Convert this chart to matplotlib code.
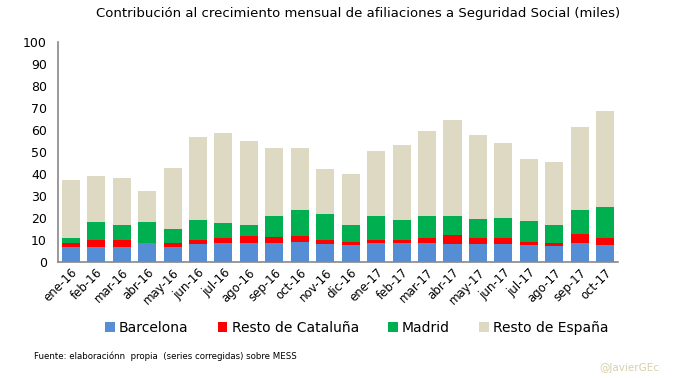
import matplotlib
matplotlib.use("Agg")
import matplotlib.pyplot as plt
import numpy as np

months = ["ene-16", "feb-16", "mar-16", "abr-16", "may-16", "jun-16", "jul-16",
          "ago-16", "sep-16", "oct-16", "nov-16", "dic-16", "ene-17", "feb-17",
          "mar-17", "abr-17", "may-17", "jun-17", "jul-17", "ago-17", "sep-17", "oct-17"]

barcelona = [6.6, 6.9, 6.9, 8.4, 6.9, 8.0, 8.4, 8.4, 8.4, 8.9, 8.0, 7.5,
             8.4, 8.4, 8.4, 8.0, 8.0, 8.0, 7.5, 7.1, 8.4, 7.5]
resto_cat = [1.8, 3.3, 3.3, 0.0, 1.5, 1.8, 2.3, 3.2, 2.8, 2.7, 1.8, 1.4,
             1.8, 1.8, 2.3, 4.1, 2.7, 2.7, 1.4, 1.3, 4.1, 3.2]
madrid = [2.6, 7.8, 6.4, 9.6, 6.4, 9.1, 6.8, 5.0, 9.5, 11.8, 11.8, 8.1,
          10.5, 8.7, 10.4, 8.6, 8.6, 9.1, 9.5, 8.2, 10.9, 14.5]
resto_esp = [26.3, 21.1, 21.6, 14.3, 28.1, 38.0, 41.3, 38.5, 31.3, 28.6, 20.8, 23.2,
             29.9, 34.3, 38.6, 43.9, 38.5, 34.4, 28.6, 29.0, 38.1, 43.5]

series = [("Barcelona", barcelona, "#558ED5"),
          ("Resto de Cataluña", resto_cat, "#FF0000"),
          ("Madrid", madrid, "#00B050"),
          ("Resto de España", resto_esp, "#DDD9C3")]

plt.rcParams['font.family'] = ['DejaVu Sans']
fig = plt.figure(figsize=(6.77, 3.78), dpi=100)
ax = fig.add_axes([0.0857, 0.307, 0.827, 0.582])

n = len(barcelona)
x = np.arange(n)
bottom = np.zeros(n)
handles = []
for name, vals, col in series:
    b = ax.bar(x, vals, bottom=bottom, width=0.71, color=col, label=name, linewidth=0)
    bottom += np.array(vals)
    handles.append(b)

ax.set_xlim(-0.5, n - 0.5)
ax.set_ylim(0, 100)
ax.set_yticks(range(0, 101, 10))
ax.tick_params(axis='y', length=0, labelsize=9, pad=8)
ax.tick_params(axis='x', length=0, labelsize=8.5, pad=3)
ax.set_xticks(x)
ax.set_xticklabels(months, rotation=45, ha='right', rotation_mode='anchor')
for s in ['top', 'right']:
    ax.spines[s].set_visible(False)
for s in ['left', 'bottom']:
    ax.spines[s].set_color('#888888')
    ax.spines[s].set_linewidth(1.2)

fig.text(0.529, 0.965, "Contribución al crecimiento mensual de afiliaciones a Seguridad Social (miles)",
         ha='center', va='center', fontsize=9.5)

fig.legend(handles=handles, loc='center', bbox_to_anchor=(0.527, 0.132), ncol=4,
           frameon=False, fontsize=10, handlelength=0.7, handleheight=0.7,
           columnspacing=2.1, handletextpad=0.3)

fig.text(0.05, 0.058, "Fuente: elaboraciónn  propia  (series corregidas) sobre MESS",
         ha='left', va='center', fontsize=6.2)
fig.text(0.885, 0.027, "@JavierGEc", ha='left', va='center', fontsize=7.5, color='#D8CFA8')

fig.savefig("out.png", dpi=100)
